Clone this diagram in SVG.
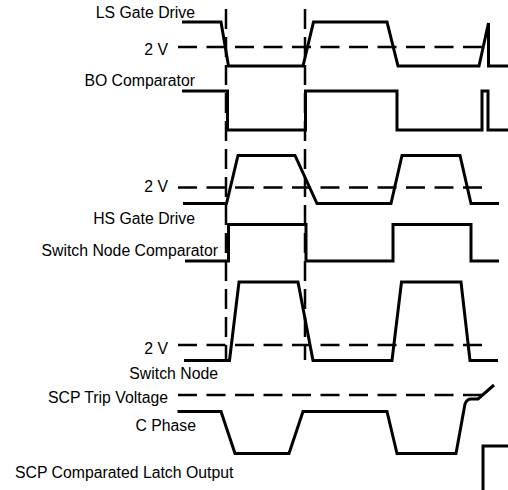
<svg xmlns="http://www.w3.org/2000/svg" width="508" height="490" viewBox="0 0 508 490">
<style>
.bg{fill:#fff}
.sig{fill:none;stroke:#000;stroke-width:3;stroke-linejoin:miter;stroke-linecap:butt}
.ref{fill:none;stroke:#000;stroke-width:2.5;stroke-dasharray:19 9.5}
.vref{fill:none;stroke:#000;stroke-width:2.5;stroke-dasharray:20 8}
.lbl{font-family:"Liberation Sans",Arial,Helvetica,sans-serif;font-size:15.8px;fill:#000;text-anchor:end}
</style>
<rect class="bg" x="0" y="0" width="508" height="490"/>
<g id="guides">
<line class="vref" x1="226" y1="9" x2="226" y2="360"/>
<line class="vref" x1="305" y1="9" x2="305" y2="360"/>
</g>
<g id="ls-gate-drive">
<text class="lbl" x="195" y="17.5">LS Gate Drive</text>
<text class="lbl" x="168" y="55">2 V</text>
<line class="ref" x1="178" y1="47" x2="488" y2="47"/>
<polyline class="sig" points="182,22 221,22 228.5,66 303,66 313.5,22 387,22 398,66 479,66 488.5,23 488.5,66 508,66"/>
</g>
<g id="bo-comparator">
<text class="lbl" x="195" y="85.5">BO Comparator</text>
<polyline class="sig" points="182,91 227.5,91 227.5,130 305.5,130 305.5,91 397,91 397,130 482,130 482,91 488,91 488,130 508,130"/>
</g>
<g id="hs-gate-drive">
<text class="lbl" x="168" y="192">2 V</text>
<text class="lbl" x="195" y="223.5">HS Gate Drive</text>
<line class="ref" x1="178" y1="187.5" x2="488" y2="187.5"/>
<polyline class="sig" points="183,203.5 226.5,203.5 238,155.5 295,155.5 317,203.5 391,203.5 402,155.5 460,155.5 471,203.5 499,203.5"/>
</g>
<g id="switch-node-comparator">
<text class="lbl" x="218" y="255.5">Switch Node Comparator</text>
<polyline class="sig" points="185,261 228.5,261 228.5,224.5 306,224.5 306,261 393,261 393,224.5 471,224.5 471,261 499,261"/>
</g>
<g id="switch-node">
<text class="lbl" x="168" y="353.5">2 V</text>
<text class="lbl" x="218" y="379">Switch Node</text>
<line class="ref" x1="178" y1="345" x2="488" y2="345"/>
<polyline class="sig" points="184,360.5 229.5,360.5 239,282 298,282 313,360.5 392,360.5 401.5,282 461,282 470,360.5 498,360.5"/>
</g>
<g id="scp-trip-voltage">
<text class="lbl" x="168" y="402.5">SCP Trip Voltage</text>
<line class="ref" x1="178" y1="395" x2="488" y2="395"/>
</g>
<g id="c-phase">
<text class="lbl" x="196" y="430.5">C Phase</text>
<path class="sig" d="M177.5,411.5 H221 L235,453.5 H289 L303,411.5 H387 L397,453.5 H456 L465,404 Q467,399 471,399 H478 L494,385"/>
</g>
<g id="scp-latch-output">
<text class="lbl" x="15" y="477.5" style="text-anchor:start">SCP Comparated Latch Output</text>
<polyline class="sig" points="483,490 483,446 508,446"/>
</g>
</svg>
